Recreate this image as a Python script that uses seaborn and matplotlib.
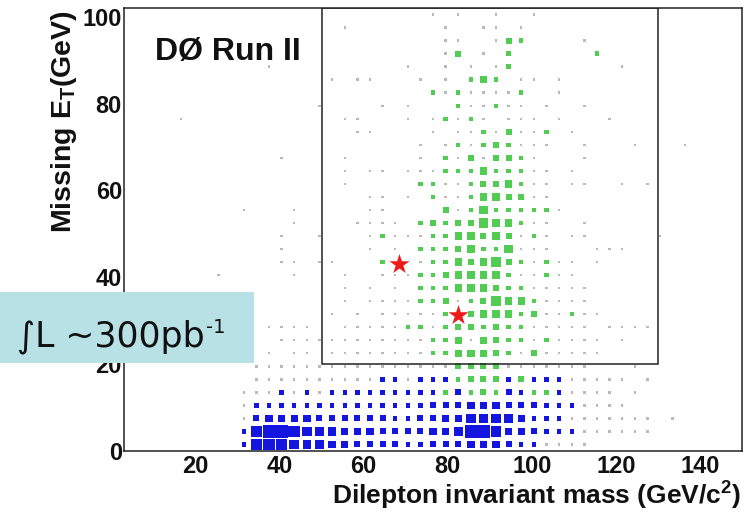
import numpy as np
import pandas as pd
import matplotlib
matplotlib.use("Agg")
import matplotlib.pyplot as plt
from matplotlib.patches import Rectangle
from matplotlib.ticker import MultipleLocator
import seaborn as sns

# ---------------- data ----------------
BIN_WIDTH = 3.0                      # GeV, both axes
MASS_RANGE = (3.0, 150.0)
MET_RANGE = (0.0, 102.0)

# Box levels (0-9) per cell; one string per MET row, one char per mass bin
# (mass bins centred at 1.5, 4.5, ... ; groups of 5 bins separated by spaces)
blue_first_row = 0
blue_rows = [
    "..... ..... 27876 55443 33322 33344 43221 111.. ..... .....",
    "..... ..... 28998 66544 43333 44599 74432 22111 111.. .....",
    "..... ..... 13444 43333 33223 34466 65422 21111 111.1 .....",
    "..... ..... 12222 22222 22222 33344 43332 22111 1.... .....",
    "..... ..... 11121 21222 22222 2.3.. .32.. 21111 .1... .....",
    "..... ..... .1111 11111 12212 22... .2.22 21111 1.1.. .....",
    "..... ..... .1111 11111 11111 11... .1111 111.. .1... .....",
]

green_first_row = 4
green_rows = [
    "..... ..... ..... ..... ..... .2.23 2..22 ..... ..... .....",
    "..... ..... ..... ..... ..... ..233 3.3.. ..... ..... .....",
    "..... ..... ..... ..... ..... ..333 3.... ..... ..... .....",
    "..... ..... ..1.1 1.111 11111 22444 32131 1111. ..... .....",
    "..... ..... ...11 11111 11111 22414 32212 1111. 1.... .....",
    "..... ..... ..111 1..11 11122 12332 32211 111.1 111.. .....",
    "..... ..... ..... ..1.1 .1111 12.34 44231 1211. ..... .....",
    "..... ..... ..... ...1. 11112 23123 64421 111.. ..... .....",
    "..... ..... ..... ...1. 1.1.2 22454 32211 111.. ..... .....",
    "..... ...1. ....1 ...1. .1112 23444 42112 11... ..... .....",
    "..... ..... ...11 .11.. .2..1 22434 63212 11.1. ..... .....",
    "..... ..... ...1. ..... 1.1.2 22342 25111 ...11 1.... .....",
    "..... ..... ...1. .1... 12111 22453 43121 .11.. ...1. .....",
    "..... ..... ....1 ....1 111.2 32336 44211 ..1.. ..... .....",
    "..... ..... 1...1 ..... 11... .3125 22222 1.... ..... .....",
    "..... ..... ..... ..... 11.1. 21124 43311 ..... ..... .....",
    "..... ..... ..... ...1. ....2 21123 34211 .11.. 1.1.. .....",
    "..... ..... ..... ...1. 11.11 12224 22211 .1... ..... .....",
    "..... ..... ...1. ...1. ....1 .2131 3321. ..1.. ..... .....",
    "..... ..... ..... ..... ....1 .1212 32111 ..1.. .1... 1....",
    "..... ..... ..... ....1 1.... 1.112 13112 .1... ..... .....",
    "..... 1.... ..... ...11 ...1. 12121 .111. 1...1 ..... .....",
    "..... ..... ..... .1... .1.1. ..211 211.1 ..1.. ..... .....",
    "..... ..... ..... ..... ..... 21211 112.. 1.... ..... .....",
    "..... ..... ..... ..1.1 1...1 .1.24 2.11. 1.... ..... .....",
    "..... ..... ..1.. ..... ...1. .1.1. 12... ..... 1.... .....",
    "..... ..... ..... ..... ..... .13.1 .2... ...2. ..... .....",
    "..... ..... ..... ..... ..... .11.. 132.. ..1.. ..... .....",
    "..... ..... ..... ...1. ..... .1..1 1.1.. ..... ..... .....",
    "..... ..... ..... ..... ..... 1.1.. 1..1. ..... ..... .....",
]

candidate_mass = [68.3, 82.4]
candidate_met = [43.1, 31.3]

signal_mass_window = (50.0, 130.0)
signal_met_min = 20.0

x_label = r"Dilepton invariant mass (GeV/c$^{\mathbf{2}}$)"
y_label = r"Missing E$_{\mathbf{T}}$(GeV)"
experiment_label = "DØ Run II"
lumi_label = "∫L ~300pb"
lumi_exponent = "-1"


def cells(rows, first_row, name):
    recs = []
    for j, row in enumerate(rows):
        row = row.replace(" ", "")
        for k, ch in enumerate(row):
            if ch != ".":
                recs.append(dict(mass=(k + 0.5) * BIN_WIDTH,
                                 met=(first_row + j + 0.5) * BIN_WIDTH,
                                 level=int(ch), hist=name))
    return recs


df = pd.DataFrame(cells(blue_rows, blue_first_row, "blue")
                  + cells(green_rows, green_first_row, "green"))
df["shade"] = np.where(df["level"] == 1, "faint", df["hist"])

# ---------------- style ----------------
sns.set_style("white")
plt.rcParams["font.family"] = ["Liberation Sans", "DejaVu Sans"]
plt.rcParams["mathtext.fontset"] = "custom"
plt.rcParams["mathtext.rm"] = "Liberation Sans"
plt.rcParams["mathtext.bf"] = "Liberation Sans:bold"
plt.rcParams["mathtext.it"] = "Liberation Sans:italic"

PX = 72.0 / 100.0  # points per pixel
side_px = {1: 2.4, 2: 4.4, 3: 6.0, 4: 7.4, 5: 8.6, 6: 9.6, 7: 10.6, 8: 11.6, 9: 12.5}
size_map = {lv: (s * PX) ** 2 for lv, s in side_px.items()}
palette = {"blue": "#1515e0", "green": "#52cc52", "faint": "#b9b9b9"}

fig = plt.figure(figsize=(7.5, 5.12), dpi=100)
fig.patch.set_facecolor("white")
ax = fig.add_axes([124 / 750, 61 / 512, 618 / 750, 443 / 512])

sns.scatterplot(data=df, x="mass", y="met", hue="shade", palette=palette,
                size="level", sizes=size_map, marker="s", linewidth=0,
                legend=False, ax=ax)

sns.scatterplot(x=candidate_mass, y=candidate_met, marker="*", s=230,
                color="#ee1a1a", linewidth=0, ax=ax, zorder=6)

ax.add_patch(Rectangle((signal_mass_window[0], signal_met_min),
                       signal_mass_window[1] - signal_mass_window[0],
                       MET_RANGE[1] - signal_met_min,
                       fill=False, ec="#222222", lw=1.1, zorder=5))

ax.set_xlim(*MASS_RANGE)
ax.set_ylim(*MET_RANGE)
ax.xaxis.set_major_locator(MultipleLocator(20))
ax.xaxis.set_minor_locator(MultipleLocator(5))
ax.yaxis.set_major_locator(MultipleLocator(20))
ax.yaxis.set_minor_locator(MultipleLocator(5))

for sp in ax.spines.values():
    sp.set_visible(True)
    sp.set_linewidth(1.1)
    sp.set_color("#222222")

ax.tick_params(axis="x", which="major", direction="in", length=9.5, width=1.0,
               labelsize=17, pad=3.2, colors="#111111", top=False)
ax.tick_params(axis="x", which="minor", direction="in", length=5, width=1.0,
               top=False)
ax.tick_params(axis="y", which="major", direction="in", length=13, width=1.0,
               labelsize=17, pad=1.5, colors="#111111", right=False)
ax.tick_params(axis="y", which="minor", direction="in", length=6.5, width=1.0,
               right=False)
for lab in ax.get_xticklabels() + ax.get_yticklabels():
    lab.set_fontweight("bold")

ax.set_xlabel(x_label, fontsize=19, fontweight="bold", loc="right",
              color="#111111")
ax.xaxis.set_label_coords(0.998, -0.065)
ax.set_ylabel(y_label, fontsize=20.5, fontweight="bold", loc="top",
              color="#111111")
ax.yaxis.set_label_coords(-0.073, 0.995)

ax.text(0.050, 0.883, experiment_label, transform=ax.transAxes,
        fontsize=23, fontweight="bold", va="baseline", ha="left",
        color="#111111")

fig.add_artist(Rectangle((0, (512 - 363) / 512), 254 / 750, 71 / 512,
                         transform=fig.transFigure, fc="#b7e1e4", ec="none",
                         zorder=10))
lumi = fig.text(17 / 750, (512 - 346) / 512, lumi_label, fontsize=25,
                family=["DejaVu Sans"], va="baseline", ha="left",
                color="#111111", zorder=11)
fig.canvas.draw()
bb = lumi.get_window_extent(fig.canvas.get_renderer())
fig.text(bb.x1 / 750 + 1 / 750, (512 - 318) / 512, lumi_exponent,
         fontsize=14, family=["DejaVu Sans"], va="top", ha="left",
         color="#111111", zorder=11)

fig.savefig("out.png", dpi=100)
